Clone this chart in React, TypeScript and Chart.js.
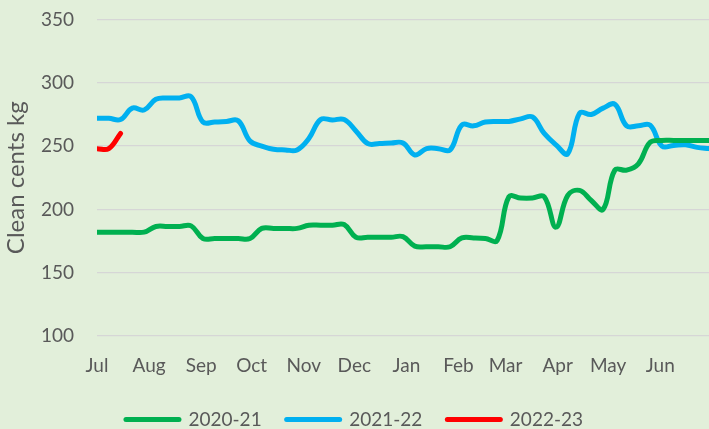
import React, { useEffect, useRef } from 'react';
import { Chart, registerables } from 'chart.js';

Chart.register(...registerables);

// Weekly prices (clean cents/kg), week 0 = start of July, week 52 = end of June
const series2020_21 = [
  182, 182, 182, 182, 182, 186.5, 186.5, 186.5, 187, 177,
  177, 177, 177, 177, 185, 185, 185, 185, 187.5, 187.5,
  187.5, 188, 178, 178, 178, 178, 178.5, 171, 170.5, 170.5,
  170.5, 177.5, 177.5, 177, 175.5, 210, 209, 209, 210, 186,
  211, 215, 207, 200, 231, 231, 236, 253, 254.5, 254.5,
  254.5, 254.5, 254.5,
];

const series2021_22 = [
  272, 272, 271, 280, 278.5, 287, 288, 288, 289, 269,
  269, 269.5, 270, 254, 250, 247.5, 247, 247, 256, 271,
  270.6, 271, 262, 252, 252, 252.5, 252.5, 243, 248, 248,
  247, 266.7, 266, 269, 269.5, 269.5, 271.5, 273, 260, 251,
  244, 276, 275, 280, 283, 266, 266, 266.5, 250, 250.5,
  251, 249, 248,
];

const series2022_23 = [248, 248, 260];

const seriesLabels = ['2020-21', '2021-22', '2022-23'];
const seriesColors = ['#00B050', '#00B0F0', '#FF0000'];

const monthLabels = ['Jul', 'Aug', 'Sep', 'Oct', 'Nov', 'Dec', 'Jan', 'Feb', 'Mar', 'Apr', 'May', 'Jun'];
// month start positions in weeks from 1 July
const monthPositions = [0, 4.43, 8.86, 13.14, 17.57, 21.86, 26.29, 30.71, 34.71, 39.14, 43.43, 47.86];

const yTicks = [100, 150, 200, 250, 300, 350];

const FONT = 'Lato, "Open Sans", "Liberation Sans", sans-serif';
const TEXT = '#595959';

const toPoints = (arr: number[]) => arr.map((v, i) => ({ x: i, y: v }));

export default function App() {
  const ref = useRef<HTMLCanvasElement | null>(null);

  useEffect(() => {
    document.body.style.margin = '0';
    const canvas = ref.current;
    if (!canvas) return;

    const bgPlugin = {
      id: 'bg',
      beforeDraw(chart: any) {
        const { ctx, width, height } = chart;
        ctx.save();
        ctx.fillStyle = '#E2EFDA';
        ctx.fillRect(0, 0, width, height);
        ctx.restore();
      },
    };

    const all = [series2020_21, series2021_22, series2022_23];

    const chart = new Chart(canvas, {
      type: 'line',
      data: {
        datasets: all.map((s, i) => ({
          label: seriesLabels[i],
          data: toPoints(s),
          borderColor: seriesColors[i],
          backgroundColor: seriesColors[i],
          borderWidth: 5,
          borderCapStyle: 'round',
          borderJoinStyle: 'round',
          pointRadius: 0,
          tension: 0.4,
          fill: false,
        })),
      },
      options: {
        responsive: false,
        animation: false,
        devicePixelRatio: 1,
        layout: { padding: { top: 19.5, right: 0, left: 0, bottom: -10 } },
        scales: {
          x: {
            type: 'linear',
            min: 0,
            max: 52,
            grid: { display: false, drawTicks: false },
            border: { display: false },
            afterBuildTicks: (scale: any) => {
              scale.ticks = monthPositions.map((v) => ({ value: v }));
            },
            afterFit: (scale: any) => {
              scale.height = 49;
            },
            ticks: {
              autoSkip: false,
              maxRotation: 0,
              padding: 18,
              color: TEXT,
              font: { family: FONT, size: 19 },
              callback: (_v: any, idx: number) => monthLabels[idx],
            },
          },
          y: {
            min: 100,
            max: 350,
            afterBuildTicks: (scale: any) => {
              scale.ticks = yTicks.map((v) => ({ value: v }));
            },
            afterFit: (scale: any) => {
              scale.width = 97;
              scale.paddingTop = 0;
              scale.paddingBottom = 0;
            },
            grid: { color: '#D6D6D6', lineWidth: 1.3, drawTicks: false },
            border: { display: false },
            ticks: {
              padding: 23,
              color: TEXT,
              font: { family: FONT, size: 19 },
            },
            title: {
              display: true,
              text: 'Clean cents kg',
              color: TEXT,
              font: { family: FONT, size: 24 },
              padding: { top: 2, bottom: 0 },
            },
          },
        },
        plugins: {
          legend: {
            position: 'bottom',
            labels: {
              usePointStyle: true,
              pointStyle: 'line',
              pointStyleWidth: 53,
              padding: 25,
              color: TEXT,
              font: { family: FONT, size: 19 },
              generateLabels: (c: any) =>
                c.data.datasets.map((ds: any, i: number) => ({
                  text: ds.label,
                  fillStyle: ds.borderColor,
                  strokeStyle: ds.borderColor,
                  lineWidth: 5,
                  lineCap: 'round',
                  pointStyle: 'line',
                  hidden: false,
                  datasetIndex: i,
                  fontColor: TEXT,
                })),
            },
          },
          tooltip: { enabled: false },
        },
      },
      plugins: [bgPlugin],
    } as any);

    return () => chart.destroy();
  }, []);

  return <canvas ref={ref} width={709} height={429} style={{ display: 'block' }} />;
}
